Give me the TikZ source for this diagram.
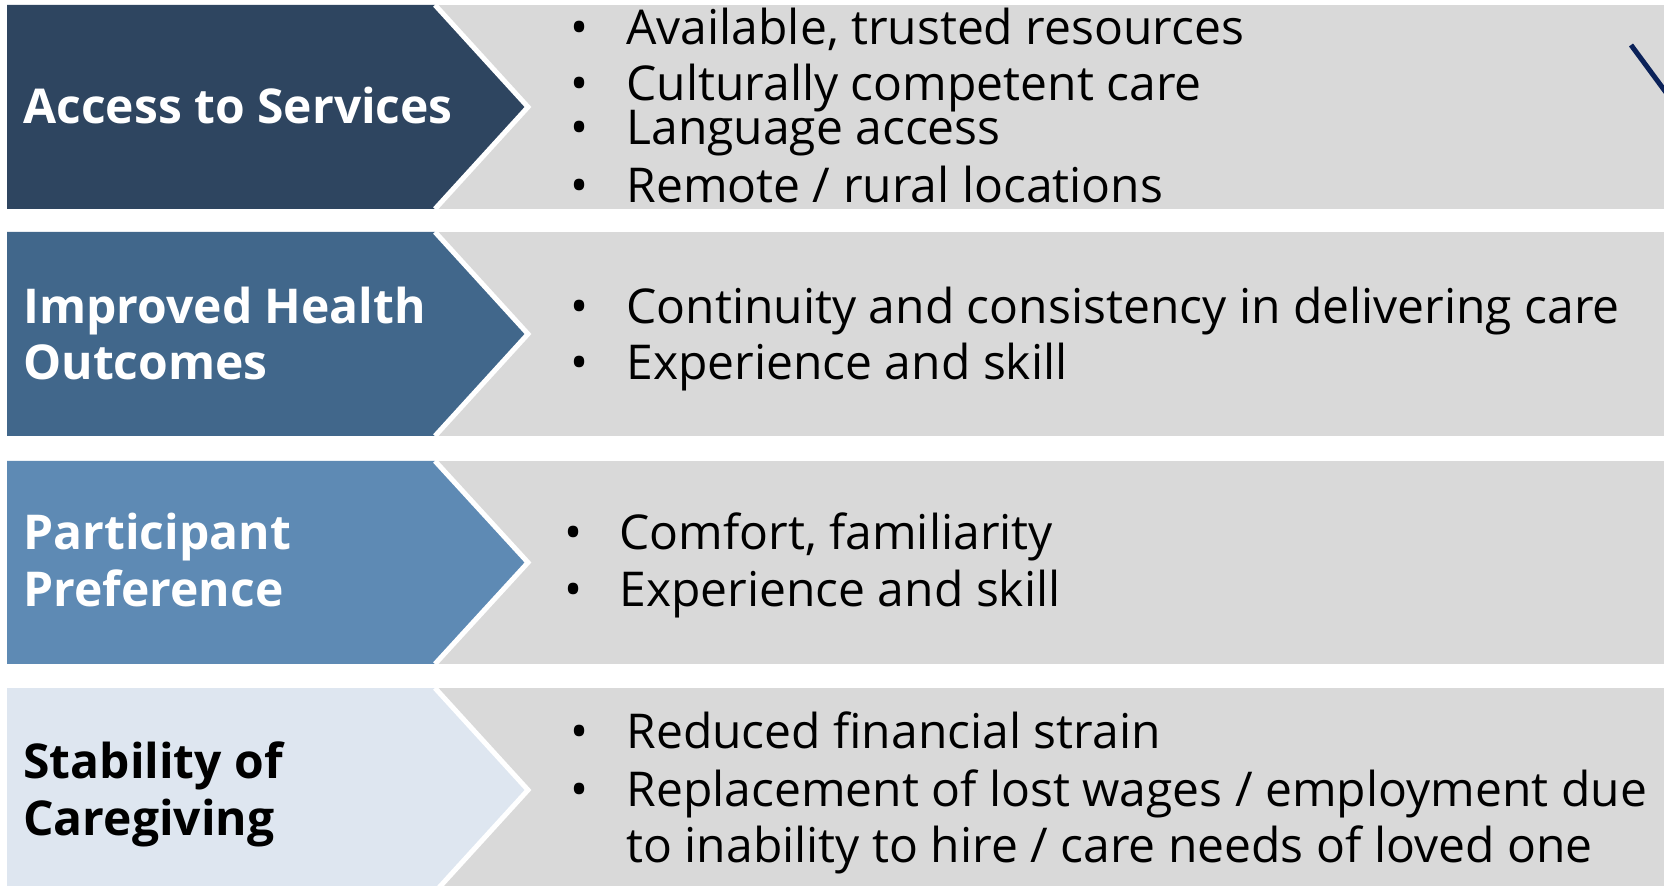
\documentclass[tikz,border=0pt]{standalone}
\usepackage{fontspec}
\setmainfont{Open Sans}
\newfontfamily\lblfont{Open Sans}
\newfontfamily\itemfont{Open Sans}
\definecolor{bandA}{HTML}{2E4560}
\definecolor{bandB}{HTML}{41678B}
\definecolor{bandC}{HTML}{5E8AB4}
\definecolor{bandD}{HTML}{DEE6F0}
\definecolor{graybg}{HTML}{D9D9D9}
\definecolor{navyline}{HTML}{0B2259}
\tikzset{
  lbl/.style={anchor=base west, inner sep=0pt, font=\lblfont\bfseries\fontsize{24pt}{28pt}\selectfont},
  itm/.style={anchor=base west, inner sep=0pt, font=\itemfont\fontsize{24pt}{28pt}\selectfont, text=black},
  bul/.style={anchor=base, inner sep=0pt, font=\itemfont\fontsize{24pt}{28pt}\selectfont, text=black},
  edge/.style={white, line width=2.5pt, line join=miter}
}
\newcommand{\band}[4]{% top, bottom, colour, name
  \fill[graybg] (430,#1) rectangle (1664,#2);
  \fill[#3] (7,#1) -- (435,#1) -- (528,{(#1+#2)/2}) -- (435,#2) -- (7,#2) -- cycle;
  \draw[edge] (435,#1) -- (528,{(#1+#2)/2}) coordinate (#4tip) -- (435,#2);
}
\begin{document}
\begin{tikzpicture}[x=0.5pt,y=-0.5pt]
\useasboundingbox (0,0) rectangle (1664,886);
\fill[white] (0,0) rectangle (1664,886);
\clip (0,0) rectangle (1664,886);
\band{5}{209}{bandA}{a}
\band{232}{436}{bandB}{b}
\band{461}{664}{bandC}{c}
\band{688}{892}{bandD}{d}
% top-right line
\coordinate (ln1) at (1631,45);
\coordinate (ln2) at (1690,125);
\draw[navyline, line width=2.5pt] (ln1) -- (ln2);
% labels
\node[lbl, text=white] (la) at (23,124) {Access to Services};
\node[lbl, text=white] (lb1) at (23,324) {Improved Health};
\node[lbl, text=white] (lb2) at (23,380) {Outcomes};
\node[lbl, text=white] (lc1) at (23,550) {Participant};
\node[lbl, text=white] (lc2) at (23,607) {Preference};
\node[lbl, text=black] (ld1) at (23,778) {Stability of};
\node[lbl, text=black] (ld2) at (23,835) {Caregiving};
% band 1 items
\node[bul] (ba1) at (580,45) {•};
\node[itm] (ia1) at (626,45) {Available, trusted resources};
\node[bul] (ba2) at (580,101) {•};
\node[itm] (ia2) at (626,101) {Culturally competent care};
\node[bul] (ba3) at (580,145) {•};
\node[itm] (ia3) at (626,145) {Language access};
\node[bul] (ba4) at (580,203) {•};
\node[itm] (ia4) at (626,203) {Remote / rural locations};
% band 2 items
\node[bul] (bb1) at (580,324) {•};
\node[itm] (ib1) at (626,324) {Continuity and consistency in delivering care};
\node[bul] (bb2) at (580,380) {•};
\node[itm] (ib2) at (626,380) {Experience and skill};
% band 3 items
\node[bul] (bc1) at (574,550) {•};
\node[itm] (ic1) at (619,550) {Comfort, familiarity};
\node[bul] (bc2) at (574,607) {•};
\node[itm] (ic2) at (619,607) {Experience and skill};
% band 4 items
\node[bul] (bd1) at (580,748) {•};
\node[itm] (id1) at (626,748) {Reduced financial strain};
\node[bul] (bd2) at (580,806) {•};
\node[itm] (id2) at (626,806) {Replacement of lost wages / employment due};
\node[itm] (id3) at (626,862) {to inability to hire / care needs of loved one};
\end{tikzpicture}
\end{document}
